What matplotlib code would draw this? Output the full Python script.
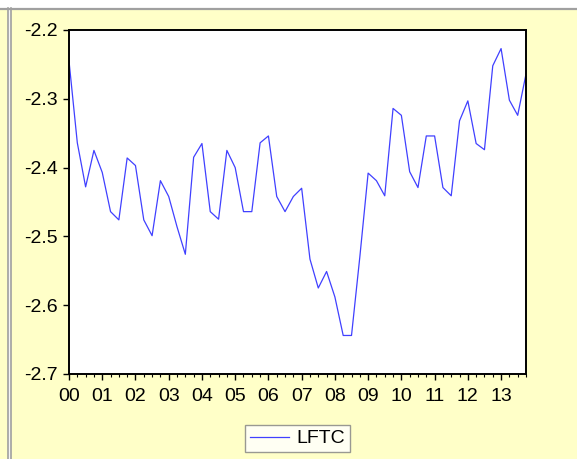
import matplotlib
matplotlib.use("Agg")
import matplotlib.pyplot as plt
import numpy as np
from matplotlib.patches import Rectangle
from matplotlib.lines import Line2D
from matplotlib.ticker import MultipleLocator

# Quarterly series 2000Q1 - 2013Q4
lftc = [-2.245, -2.364, -2.428, -2.375, -2.407, -2.464, -2.476, -2.386,
        -2.397, -2.476, -2.499, -2.419, -2.442, -2.486, -2.526, -2.385,
        -2.365, -2.464, -2.475, -2.375, -2.400, -2.464, -2.464, -2.364,
        -2.354, -2.442, -2.464, -2.442, -2.430, -2.533, -2.575, -2.551,
        -2.588, -2.644, -2.644, -2.530, -2.408, -2.419, -2.441, -2.314,
        -2.324, -2.406, -2.429, -2.354, -2.354, -2.429, -2.441, -2.332,
        -2.303, -2.365, -2.374, -2.252, -2.227, -2.302, -2.324, -2.264]
start_year = 0
year_labels = ["00", "01", "02", "03", "04", "05", "06", "07", "08", "09",
               "10", "11", "12", "13"]
y_ticks = [-2.7, -2.6, -2.5, -2.4, -2.3, -2.2]
series_name = "LFTC"

plt.rcParams['font.family'] = ['Liberation Sans', 'DejaVu Sans']

W, H = 577, 459
fig = plt.figure(figsize=(W / 100, H / 100), dpi=100)
yellow = '#FFFFC8'
fig.patch.set_facecolor(yellow)

# window decoration
fig.add_artist(Rectangle((0, 1 - 8 / H), 1, 8 / H, transform=fig.transFigure,
                         facecolor='white', edgecolor='none', zorder=0))
fig.add_artist(Line2D([0, 1], [1 - 8.5 / H, 1 - 8.5 / H], transform=fig.transFigure,
                      color='#A0A0A0', lw=1.6))
fig.add_artist(Line2D([7.5 / W, 7.5 / W], [0, 1 - 8 / H], transform=fig.transFigure,
                      color='#A0A0A0', lw=1.2))
fig.add_artist(Line2D([11.5 / W, 11.5 / W], [0, 1 - 8 / H], transform=fig.transFigure,
                      color='#A0A0A0', lw=1.2))
fig.add_artist(Rectangle((8.2 / W, 0), 2.6 / W, 1 - 9 / H, transform=fig.transFigure,
                         facecolor='#F4F4F4', edgecolor='none', zorder=0))

left, right, top, bottom = 69, 526, 30, 374
ax = fig.add_axes([left / W, 1 - bottom / H, (right - left) / W, (bottom - top) / H])
ax.set_facecolor('white')

x = start_year + np.arange(len(lftc)) / 4.0
ax.plot(x, lftc, color='#4040FF', lw=0.9, label=series_name)

ax.set_xlim(0, x[-1])
ax.set_ylim(-2.7, -2.2)
ax.set_yticks(y_ticks)
ax.set_yticklabels([f"{v:.1f}" for v in y_ticks])
ax.set_xticks(np.arange(len(year_labels)))
ax.set_xticklabels(year_labels)
ax.xaxis.set_minor_locator(MultipleLocator(0.25))

for s in ax.spines.values():
    s.set_linewidth(1.4)
    s.set_color('black')

ax.tick_params(axis='both', which='major', direction='out', length=4, width=1,
               labelsize=14, colors='black')
ax.tick_params(axis='x', which='major', pad=6)
ax.tick_params(axis='y', which='major', pad=4)
ax.tick_params(axis='x', which='minor', direction='out', length=2.5, width=0.8)
ax.tick_params(right=False, top=False)

leg = fig.legend(loc='center', bbox_to_anchor=(297.5 / W, 1 - 438.5 / H),
                 frameon=True, fancybox=False, fontsize=14,
                 handlelength=2.0, handletextpad=0.4, borderpad=0.25,
                 borderaxespad=0)
leg.get_frame().set_edgecolor('#808080')
leg.get_frame().set_linewidth(1.0)

fig.savefig('out.png', dpi=100, facecolor=fig.get_facecolor())
